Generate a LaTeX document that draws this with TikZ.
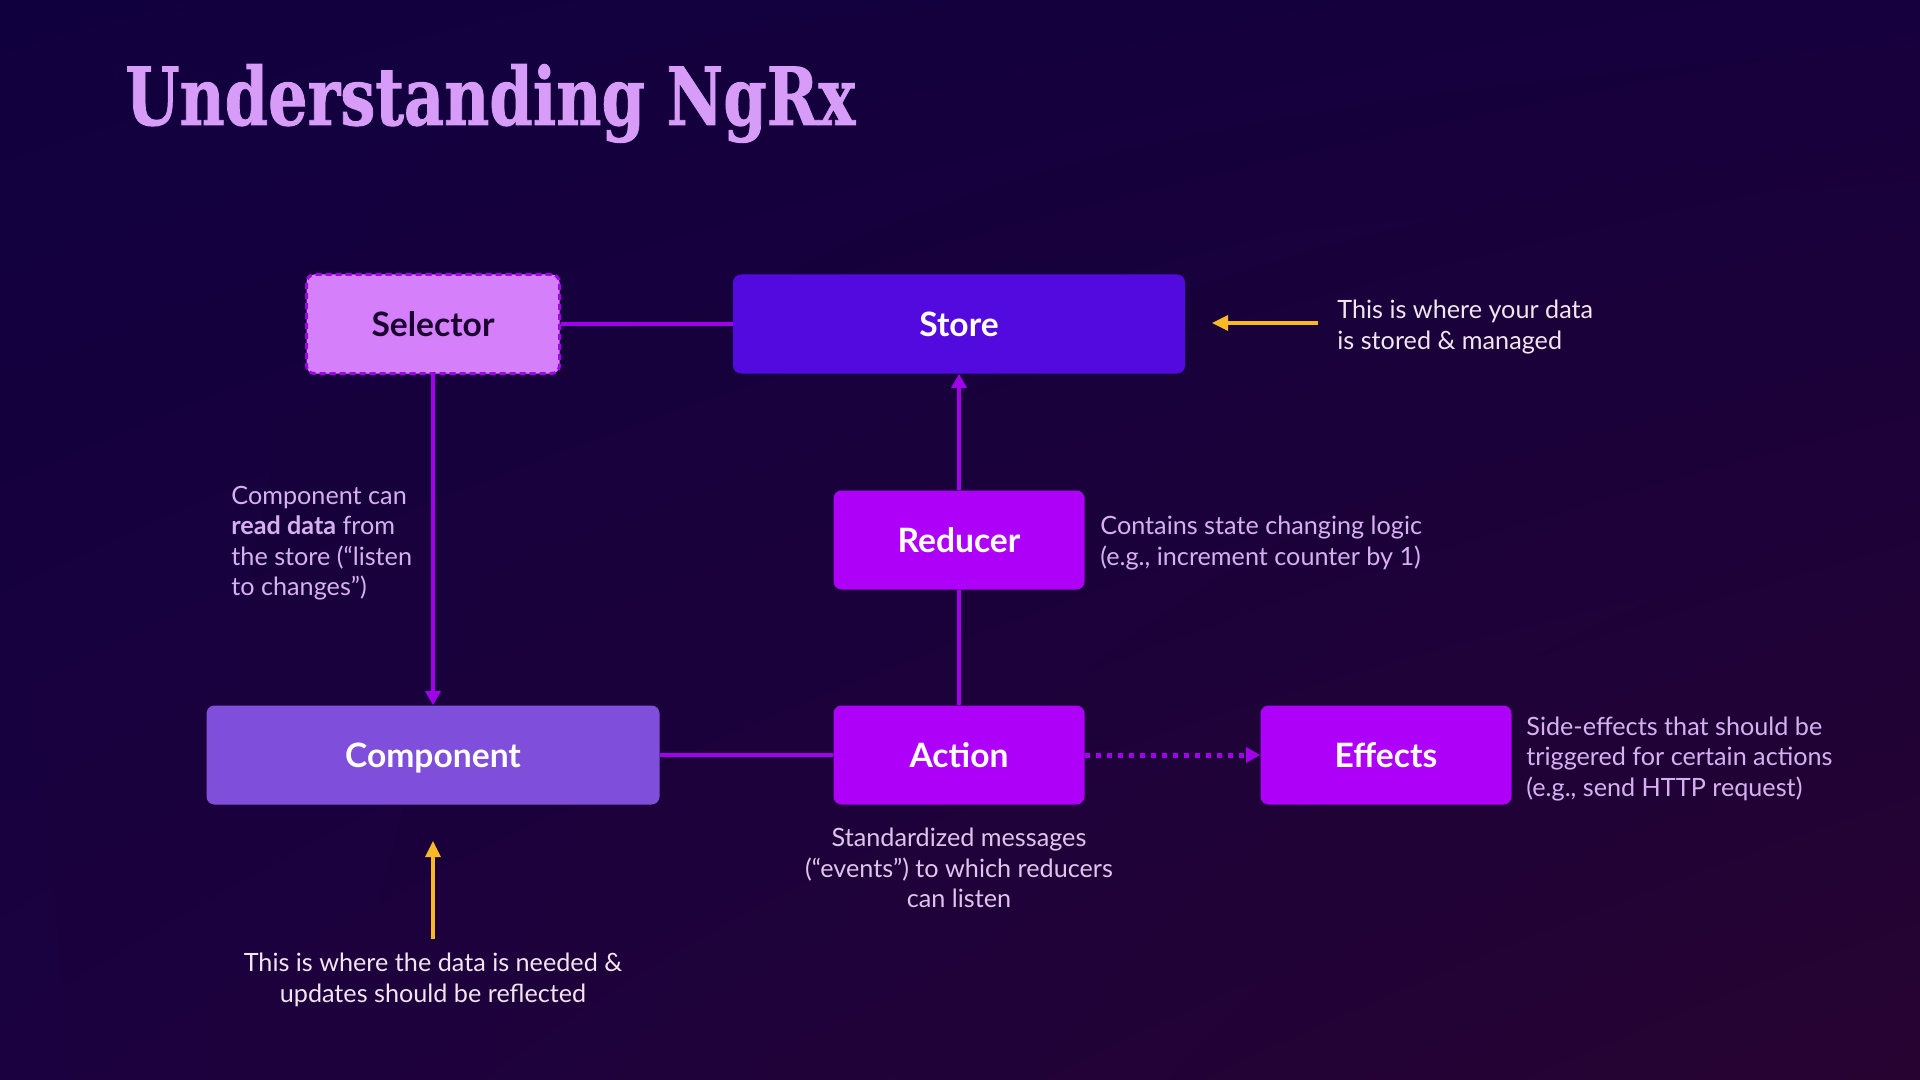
\documentclass[tikz,border=0pt]{standalone}
\usepackage{fontspec}
\usepackage{graphicx}
\usetikzlibrary{arrows.meta,shadings}
\setmainfont{Lato}
\newfontfamily\titlefont{DejaVu Serif}[BoldFont={* Bold},BoldFeatures={FakeBold=1.2}]
\definecolor{bgTL}{HTML}{11003E}
\definecolor{bgTR}{HTML}{16003D}
\definecolor{bgBL}{HTML}{1B013F}
\definecolor{bgBR}{HTML}{270331}
\definecolor{titleC}{HTML}{D69CF8}
\definecolor{storeC}{HTML}{520ADF}
\definecolor{redC}{HTML}{AE00F9}
\definecolor{compC}{HTML}{7F4FDB}
\definecolor{selC}{HTML}{D580FA}
\definecolor{dashC}{HTML}{A100E6}
\definecolor{connC}{HTML}{A200EC}
\definecolor{selText}{HTML}{1A0030}
\definecolor{yel}{HTML}{F7B928}
\definecolor{noteW}{HTML}{F3E4EE}
\definecolor{lilac}{HTML}{D7B0F2}
\definecolor{lilac2}{HTML}{E0C4EC}
\tikzset{
  box/.style={rounded corners=4pt, minimum height=49.5pt, inner sep=0pt,
    font=\fontsize{16.8pt}{19pt}\selectfont\bfseries, text=white,
    text height=12pt, text depth=0pt},
  conn/.style={draw=connC, line width=2pt},
  tip/.style={-{Triangle[length=7pt,width=7.5pt]}},
  dots/.style={dash pattern=on 2.5pt off 3pt, line width=2.5pt},
  yarrow/.style={draw=yel, line width=1.6pt, -{Triangle[length=8pt,width=7.5pt]}},
  note/.style={font=\fontsize{12.6pt}{15.2pt}\selectfont, inner sep=0pt},
}
\begin{document}
\begin{tikzpicture}[x=0.5pt,y=-0.5pt]
\useasboundingbox (0,0) rectangle (1920,1080);
\shade[upper left=bgTL, upper right=bgTR, lower left=bgBL, lower right=bgBR] (0,0) rectangle (1920,1080);

\node[anchor=base west, inner sep=0pt, text=titleC] (title) at (125,125)
  {\resizebox{365pt}{\height}{\titlefont\bfseries\fontsize{40pt}{48pt}\selectfont Understanding NgRx}};

\node[box, fill=selC, draw=dashC, line width=1.5pt, dash pattern=on 3pt off 2pt,
  text=selText, minimum width=126.5pt] (sel) at (433,324) {Selector};
\node[box, fill=storeC, minimum width=226pt] (store) at (959,324) {Store};
\node[box, fill=redC, minimum width=125.5pt] (red) at (959,540) {Reducer};
\node[box, fill=compC, minimum width=226.5pt] (comp) at (433,755) {Component};
\node[box, fill=redC, minimum width=125.5pt] (act) at (959,755) {Action};
\node[box, fill=redC, minimum width=125.5pt] (eff) at (1386,755) {Effects};

\draw[conn] (sel.east) -- (store.west);
\draw[conn, tip] (red.north) -- (store.south);
\draw[conn] (act.north) -- (red.south);
\draw[conn, tip] (sel.south) -- (comp.north);
\draw[conn] (comp.east) -- (act.west);
\draw[conn, dots, tip] (act.east) -- (eff.west);

\node[note, anchor=west, align=left, text=noteW] (n1) at (1337,327)
  {This is where your data\\is stored \& managed};
\coordinate (y1a) at (1318,323);
\coordinate (y1b) at (1212,323);
\draw[yarrow] (y1a) -- (y1b);

\node[note, anchor=west, align=left, text=lilac] (n2) at (231,543)
  {Component can\\\textbf{read data} from\\the store (“listen\\to changes”)};
\node[note, anchor=west, align=left, text=lilac] (n3) at (1100,543)
  {Contains state changing logic\\(e.g., increment counter by 1)};
\node[note, align=center, text=lilac2] (n4) at (959,868)
  {Standardized messages\\(“events”) to which reducers\\can listen};
\node[note, anchor=west, align=left, text=lilac] (n5) at (1526,759)
  {Side-effects that should be\\triggered for certain actions\\(e.g., send HTTP request)};

\coordinate (y2a) at (433,939);
\coordinate (y2b) at (433,841);
\draw[yarrow] (y2a) -- (y2b);
\node[note, align=center, text=noteW] (n6) at (433,980)
  {This is where the data is needed \&\\updates should be reflected};
\end{tikzpicture}
\end{document}
